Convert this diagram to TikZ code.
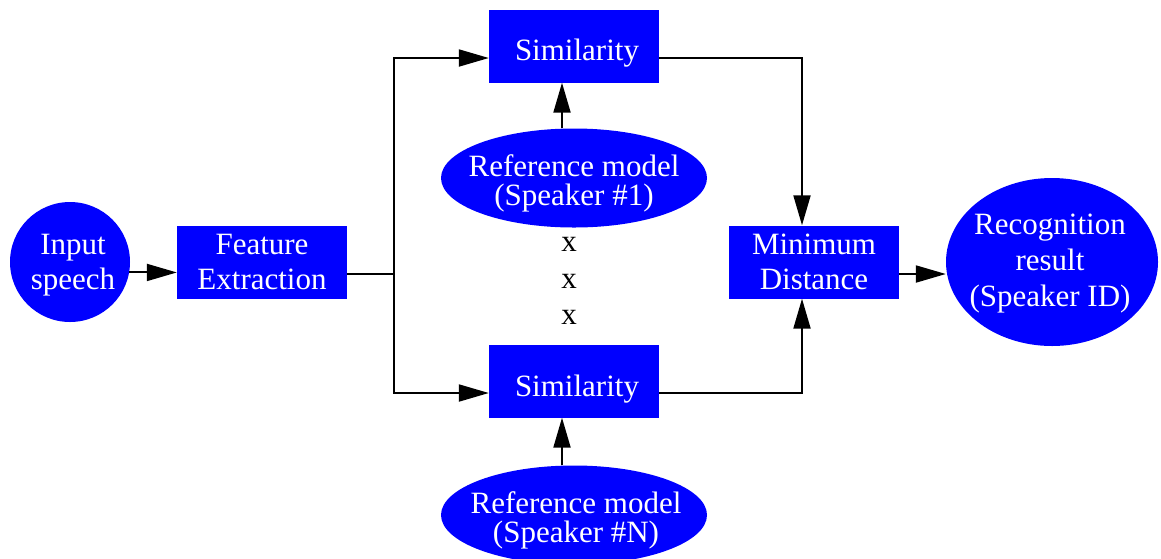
\documentclass[tikz,border=0pt]{standalone}
\usepackage{fontspec}
\setmainfont{Liberation Serif}
\usetikzlibrary{shapes.geometric,arrows.meta}
\definecolor{boxblue}{RGB}{0,0,255}
\begin{document}
\begin{tikzpicture}[x=1pt,y=-1pt,
  every node/.style={font=\fontsize{31}{35}\selectfont},
  blockbox/.style={rectangle,fill=boxblue,text=white,align=center,
    minimum width=170pt,minimum height=73pt,inner sep=0pt},
  modelell/.style={ellipse,fill=boxblue,minimum width=266pt,
    minimum height=99pt,inner sep=0pt},
  inside/.style={text=white,align=center,inner sep=0pt},
  arr/.style={line width=2pt,-{Triangle[length=30pt,width=17pt]}},
  ln/.style={line width=2pt}]
\useasboundingbox (0,0) rectangle (1161,558);
\clip (0,0) rectangle (1161,558);

% blocks
\node[circle,fill=boxblue,minimum size=120pt,inner sep=0pt] (in) at (70,262) {};
\node[inside] (intext) at (73,265) {Input\\ speech};
\node[blockbox] (fe) at (262,262) {Feature\\ Extraction};
\node[blockbox,text depth=0pt] (s1) at (574,46) {};
\node[inside] (s1text) at (577,53) {Similarity};
\node[blockbox] (s2) at (574,381) {};
\node[inside] (s2text) at (577,389) {Similarity};
\node[blockbox] (md) at (814,262) {Minimum\\ Distance};
\node[modelell] (r1) at (574,178) {};
\node[inside,font=\fontsize{31}{29}\selectfont] (r1text) at (574,183)
  {Reference model\\ (Speaker \#1)};
\node[modelell] (rn) at (574,515) {};
\node[inside,font=\fontsize{31}{29}\selectfont] (rntext) at (576,520)
  {Reference model\\ (Speaker \#N)};
\node[ellipse,fill=boxblue,minimum width=212pt,minimum height=168pt,
  inner sep=0pt] (res) at (1052,262) {};
\node[inside,font=\fontsize{31}{36}\selectfont] (restext) at (1050,264)
  {Recognition\\ result\\ (Speaker ID)};

% ellipsis between the models
\node (x1) at (569,244) {x};
\node (x2) at (569,281) {x};
\node (x3) at (569,317) {x};

% branch point of the feature stream
\coordinate (split) at (394,274);

% connectors
\draw[arr] (in.-10.5) -- (in.-10.5 -| fe.west);
\draw[ln] ([yshift=-12pt]fe.east) -- (split);
\draw[arr] (split) |- ([yshift=-12pt]s1.west);
\draw[arr] (split) |- ([yshift=-12pt]s2.west);
\draw[arr] ([xshift=-12pt]r1.north) -- ([xshift=-12pt]s1.south);
\draw[arr] ([xshift=-12pt]rn.north) -- ([xshift=-12pt]s2.south);
\draw[arr] ([yshift=-12pt]s1.east) -| ([xshift=-12pt]md.north);
\draw[arr] ([yshift=-12pt]s2.east) -| ([xshift=-12pt]md.south);
\draw[arr] ([yshift=-12pt]md.east) -- ([yshift=-12pt]md.east -| res.west);
\end{tikzpicture}
\end{document}
